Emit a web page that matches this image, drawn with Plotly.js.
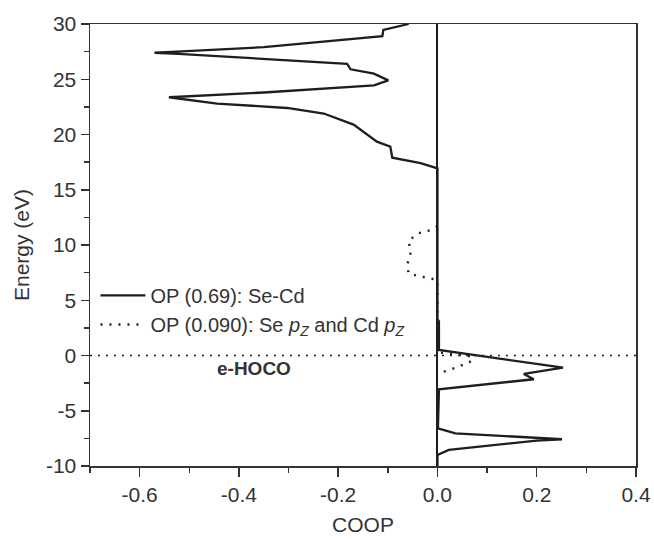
<!DOCTYPE html>
<html>
<head>
<meta charset="utf-8">
<script src="https://cdn.plot.ly/plotly-3.0.1.min.js"></script>
<style>
  html, body { margin: 0; padding: 0; background: #ffffff; }
  #chart { width: 654px; height: 539px; }
</style>
</head>
<body>
<div id="chart"></div>
<script>
// Se-Cd overlap population (solid)
const energySeCd = [30.0, 29.46, 28.9, 27.9, 27.5, 27.4, 27.3, 26.5, 26.4, 25.9, 25.5, 24.9, 24.45, 23.8, 23.4, 23.37, 22.8, 22.4, 21.9, 20.9, 19.35, 18.9, 17.9, 17.4, 16.94, 3.3, 3.1, 0.5, -1.1, -1.67, -2.15, -3.06, -6.6, -7.04, -7.58, -7.7, -8.55, -9.0, -10.0];
const coopSeCd   = [-0.058, -0.109, -0.111, -0.350, -0.525, -0.570, -0.522, -0.200, -0.182, -0.175, -0.128, -0.099, -0.128, -0.350, -0.511, -0.541, -0.444, -0.303, -0.229, -0.169, -0.122, -0.095, -0.091, -0.034, 0.0, 0.0, 0.003, 0.003, 0.253, 0.174, 0.194, 0.003, 0.001, 0.036, 0.251, 0.200, 0.023, 0.0, 0.0];

// Se pz - Cd pz overlap population (dotted)
const energyPz = [11.7, 11.36, 11.06, 10.4, 9.3, 8.2, 7.4, 7.13, 6.9, 6.7, 0.3, -0.1, -0.6, -1.0, -1.38, -1.6];
const coopPz   = [0.0, -0.012, -0.038, -0.058, -0.054, -0.061, -0.058, -0.033, -0.007, 0.0, 0.0, 0.07, 0.065, 0.043, 0.019, 0.0];

const seriesNames = [
  'OP (0.69): Se-Cd',
  'OP (0.090): Se <i>p</i><sub><i>Z</i></sub> and Cd <i>p</i><sub><i>Z</i></sub>'
];
const eHocoEnergy = 0;
const eHocoLabel = 'e-HOCO';
const xTickVals = [-0.6, -0.4, -0.2, 0.0, 0.2, 0.4];
const xTickText = ['-0.6', '-0.4', '-0.2', '0.0', '0.2', '0.4'];
const yTickVals = [-10, -5, 0, 5, 10, 15, 20, 25, 30];
const yTickText = ['-10', '-5', '0', '5', '10', '15', '20', '25', '30'];

const ink = '#1e1e1e';
const axisInk = '#333333';
const fontFam = '"Liberation Sans", Arial, sans-serif';

const traces = [
  {
    x: coopSeCd, y: energySeCd, type: 'scatter', mode: 'lines',
    name: seriesNames[0],
    line: {color: ink, width: 2.3}
  },
  {
    x: coopPz, y: energyPz, type: 'scatter', mode: 'lines',
    name: seriesNames[1],
    line: {color: ink, width: 2.4, dash: '2px,7px'}
  }
];

const layout = {
  width: 654, height: 539,
  margin: {l: 90, r: 18, t: 24, b: 73},
  paper_bgcolor: '#ffffff', plot_bgcolor: '#ffffff',
  font: {family: fontFam, color: axisInk, size: 20},
  showlegend: true,
  legend: {
    x: 0.01, y: 0.43, xanchor: 'left', yanchor: 'top',
    bgcolor: 'rgba(0,0,0,0)', borderwidth: 0,
    font: {family: fontFam, size: 20, color: axisInk},
    itemwidth: 45, tracegroupgap: 0
  },
  xaxis: {
    range: [-0.7, 0.4], tickvals: xTickVals, ticktext: xTickText,
    ticks: 'outside', ticklen: 9, tickwidth: 1.5, tickcolor: axisInk,
    minor: {dtick: 0.1, tick0: 0, ticks: 'outside', ticklen: 5, tickwidth: 1.5, tickcolor: axisInk},
    showline: true, linecolor: axisInk, linewidth: 1.5, mirror: true,
    showgrid: false,
    zeroline: true, zerolinecolor: ink, zerolinewidth: 2,
    tickfont: {size: 21, color: axisInk},
    title: {text: 'COOP', font: {size: 21, color: axisInk}, standoff: 12}
  },
  yaxis: {
    range: [-10, 30], tickvals: yTickVals, ticktext: yTickText,
    ticks: 'outside', ticklen: 8, tickwidth: 1.5, tickcolor: axisInk,
    minor: {dtick: 2.5, tick0: 0, ticks: 'outside', ticklen: 5, tickwidth: 1.5, tickcolor: axisInk},
    showline: true, linecolor: axisInk, linewidth: 1.5, mirror: true,
    showgrid: false, zeroline: false,
    tickfont: {size: 21, color: axisInk},
    title: {text: 'Energy (eV)', font: {size: 21, color: axisInk}, standoff: 10}
  },
  shapes: [
    {type: 'line', xref: 'paper', x0: 0, x1: 1, yref: 'y', y0: eHocoEnergy, y1: eHocoEnergy,
     line: {color: ink, width: 1.6, dash: '2px,6px'}, layer: 'above'}
  ],
  annotations: [
    {x: -0.369, y: -1.2, xref: 'x', yref: 'y', text: '<b>' + eHocoLabel + '</b>', showarrow: false,
     font: {family: fontFam, size: 19, color: axisInk}}
  ]
};

Plotly.newPlot('chart', traces, layout, {displayModeBar: false, staticPlot: true});
</script>
</body>
</html>
